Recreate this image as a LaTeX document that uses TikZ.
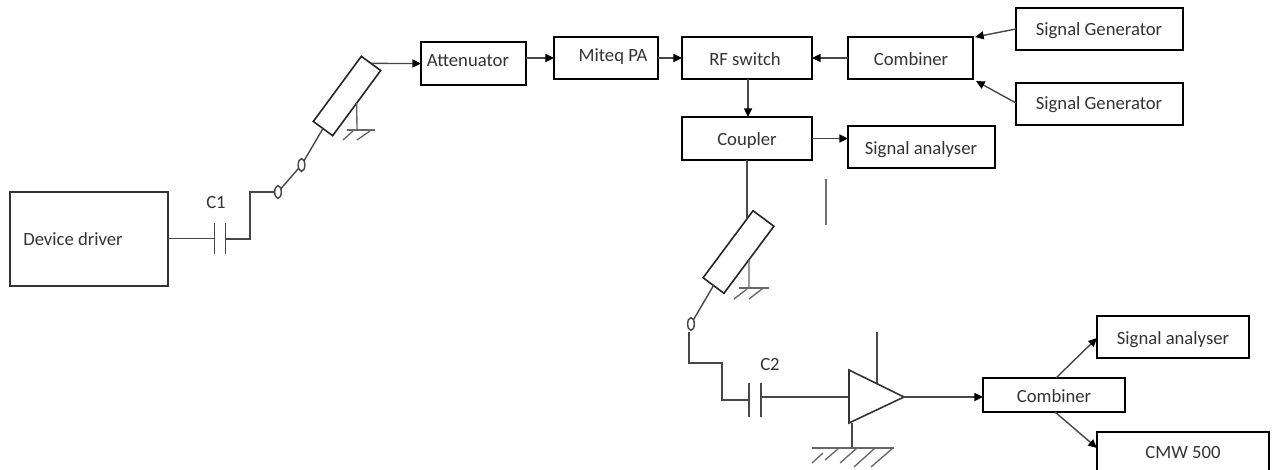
\documentclass[tikz,border=0pt]{standalone}
\usepackage{fontspec}
\setmainfont{Carlito}
\usetikzlibrary{arrows.meta,shapes.geometric}
\tikzset{
  blockstyle/.style={draw=black,line width=1.4pt,inner sep=0pt,outer sep=0pt,rectangle,text=black!80,font=\fontsize{14pt}{16pt}\selectfont},
  thinbox/.style={blockstyle,draw=black!80,line width=0.9pt},
  conn/.style={draw=black!72,line width=1.05pt},
  arrowconn/.style={conn,-{Triangle[length=6.5pt,width=6pt,color=black]}},
  plate/.style={draw=black!72,line width=1pt},
  tline/.style={draw=black!80,line width=1.2pt,line join=miter},
  term/.style={ellipse,draw=black!72,line width=1.1pt,minimum width=5pt,minimum height=9.5pt,inner sep=0pt,outer sep=0pt},
  atn/.style={rectangle,draw=black!85,line width=1.2pt,inner sep=0pt,outer sep=0pt},
  lbl/.style={text=black!80,font=\fontsize{14pt}{16pt}\selectfont,inner sep=0pt},
  gnd/.style={draw=black!60,line width=1pt},
}
% name, x0, y0, x1, y1, dx, dy, text, style
\newcommand{\blockbox}[9][blockstyle]{%
  \pgfmathsetmacro{\bxc}{(#3+#5)/2}%
  \pgfmathsetmacro{\byc}{(#4+#6)/2}%
  \pgfmathsetlengthmacro{\bxw}{0.75pt*(#5-#3)}%
  \pgfmathsetlengthmacro{\byh}{0.75pt*(#6-#4)}%
  \pgfmathsetlengthmacro{\bxd}{1.5pt*(#7)}%
  \pgfmathsetlengthmacro{\byd}{-0.75pt*(#8+1.5)}%
  \node[#1,minimum width=\bxw,minimum height=\byh] (#2) at (\bxc,\byc)
    {\smash{\raisebox{\byd}{\makebox[0pt][c]{\hspace*{\bxd}#9}}}};%
}
\begin{document}
\begin{tikzpicture}[x=0.75pt,y=-0.75pt]
\clip (0,0) rectangle (1272,470);
\useasboundingbox (0,0) rectangle (1272,470);
% blocks
\blockbox[thinbox]{driver}{10}{192}{168}{286}{-16}{5}{Device driver}
\blockbox{atten}{421}{42}{526}{85}{-5.5}{1.5}{Attenuator}
\blockbox{miteq}{554}{37}{658}{79}{7}{2}{Miteq PA}
\blockbox{rfsw}{682}{37}{812}{79}{-2}{6}{RF switch}
\blockbox{coupler}{682}{117}{812}{160}{0}{5.5}{Coupler}
\blockbox{comba}{848}{37}{973}{79}{0.5}{6}{Combiner}
\blockbox{gena}{1016}{8}{1183}{50}{-0.5}{5}{Signal Generator}
\blockbox{genb}{1016}{83}{1183}{125}{-0.5}{4}{Signal Generator}
\blockbox{saa}{848}{126}{995}{168}{-0.5}{6}{Signal analyser}
\blockbox{combb}{983}{378}{1125}{412}{0}{6}{Combiner}
\blockbox{sab}{1097}{316}{1249}{358}{0}{6}{Signal analyser}
\blockbox{cmw}{1097}{432}{1269}{472}{0}{5}{CMW 500}
% rotated attenuators
\node[atn,minimum width=60.7pt,minimum height=18pt,rotate=53.6] (atna) at (347,96) {};
\node[atn,minimum width=62.7pt,minimum height=19.5pt,rotate=53.3] (atnb) at (738.5,252) {};
% terminals
\node[term] (ta) at (278,192) {};
\node[term] (tb) at (301.5,165) {};
\node[term] (tc) at (691,324) {};
% capacitor labels
\node[lbl] (cone) at (216,203) {C1};
\node[lbl] (ctwo) at (770,365) {C2};
% coordinates
\coordinate (c1a) at (214.5,238.5);
\coordinate (c1b) at (225.5,239);
\coordinate (c2a) at (749,400);
\coordinate (c2b) at (761,397);
\coordinate (ampa) at (849,370);
\coordinate (ampb) at (849,423);
\coordinate (ampo) at (904,397);
\coordinate (ampin) at (849,397);
\coordinate (amptop) at (877,332);
\coordinate (amptopb) at (877,383);
\coordinate (ampbot) at (852,423);
\coordinate (gndc) at (852,448);
\coordinate (gnda) at (357,130);
\coordinate (gndb) at (749,288);
\coordinate (tap) at (747,218);
\coordinate (stra) at (826,179);
\coordinate (strb) at (826,225);
\coordinate (tclead) at (689,332);
% connectors chain 1
\draw[conn] (driver.east |- c1a) -- (c1a);
\draw[conn] (c1b) -| (250,192) -- (ta.west);
\draw[plate] (214.5,223) -- (214.5,254);
\draw[plate] (225.5,223) -- (225.5,254);
\draw[conn] (ta) -- (tb);
\draw[conn] (tb) -- (atna.west);
\draw[arrowconn] (atna.east) -- (atten.west);
\draw[gnd] (atna.south) -- (gnda);
\draw[gnd] (347,130) -- (375,130);
\draw[gnd] (353,131) -- (343,140);
\draw[gnd] (370,131) -- (357,140);
% top row
\draw[arrowconn] (atten.east |- miteq.west) -- (miteq.west);
\draw[arrowconn] (miteq.east) -- (rfsw.west);
\draw[arrowconn] (comba.west) -- (rfsw.east);
\draw[arrowconn] (gena.west |- 0,29) -- (975,37);
\draw[arrowconn] (genb.west |- 0,103) -- (976,81);
\draw[arrowconn] (748,79) -- (748,117);
\draw[arrowconn] (coupler.east) -- (coupler.east -| saa.west);
\draw[conn] (coupler.south) -- (tap);
\draw[draw=black!55,line width=0.8pt] (stra) -- (strb);
% chain 2
\draw[gnd] (atnb.south) -- (gndb);
\draw[gnd] (739,288) -- (769,288);
\draw[gnd] (747,289) -- (734,299);
\draw[gnd] (762,289) -- (749,299);
\draw[conn] (atnb.west) -- (tc);
\draw[conn] (tclead) -- (689,363) -- (722,363) -- (722,400) -- (c2a);
\draw[plate] (749,383) -- (749,417);
\draw[plate] (761,383) -- (761,417);
\draw[conn] (c2b) -- (ampin);
\draw[tline] (ampa) -- (ampo) -- (ampb) -- cycle;
\draw[conn] (amptop) -- (amptopb);
\draw[conn] (ampbot) -- (gndc);
\draw[gnd] (812,448) -- (894,448);
\draw[gnd] (823,453) -- (812,463);
\draw[gnd] (839,448) -- (825,460);
\draw[gnd] (857,448) -- (840,463);
\draw[gnd] (875,448) -- (854,467);
\draw[gnd] (893,448) -- (871,467);
\draw[arrowconn] (ampo) -- (combb.west |- ampo);
\draw[arrowconn] (1056,378) -- (1097,338);
\draw[arrowconn] (1055,412) -- (1097,448);
\end{tikzpicture}
\end{document}
